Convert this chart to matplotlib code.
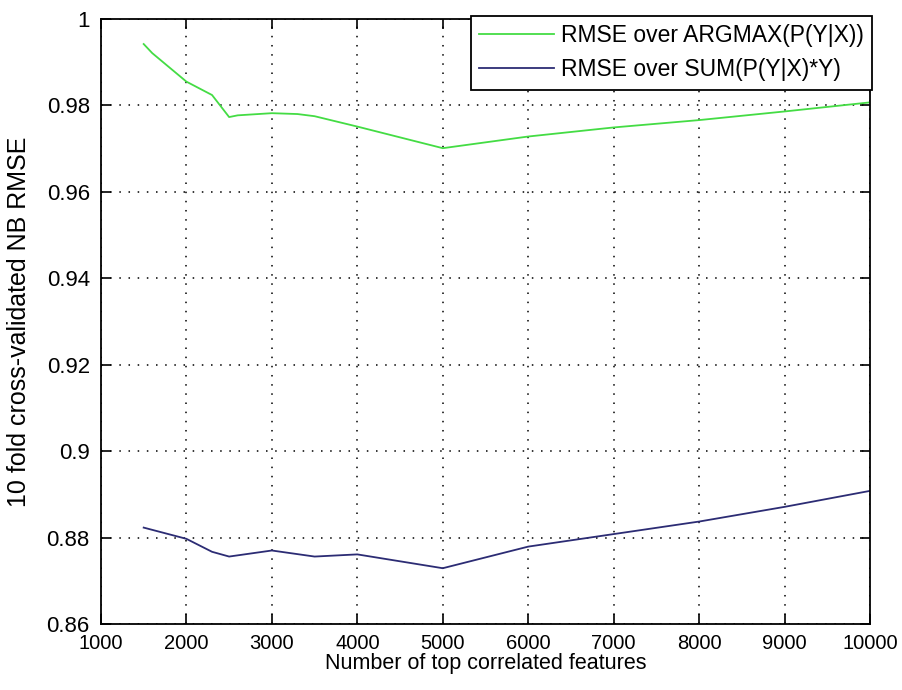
import matplotlib
matplotlib.use('Agg')
import matplotlib.pyplot as plt
from matplotlib.ticker import FuncFormatter

plt.rcParams['font.family'] = ['Liberation Sans', 'DejaVu Sans']

# RMSE over ARGMAX(P(Y|X))
argmax_x = [1500, 1600, 2000, 2300, 2500, 2600, 3000, 3300, 3500, 4000, 5000, 6000, 7000, 8000, 9000, 10000]
argmax_rmse = [0.9942, 0.9921, 0.9855, 0.9824, 0.9773, 0.9777, 0.9782, 0.9780, 0.9775, 0.9751,
               0.9701, 0.9728, 0.9749, 0.9766, 0.9786, 0.9807]

# RMSE over SUM(P(Y|X)*Y)
sum_x = [1500, 2000, 2300, 2500, 3000, 3500, 3700, 4000, 5000, 6000, 7000, 8000, 9000, 10000]
sum_rmse = [0.8823, 0.8797, 0.8767, 0.8756, 0.8770, 0.8756, 0.8758, 0.8761, 0.8729, 0.8779,
            0.8808, 0.8837, 0.8871, 0.8908]

x_ticks = [1000, 2000, 3000, 4000, 5000, 6000, 7000, 8000, 9000, 10000]
y_ticks = [0.86, 0.88, 0.90, 0.92, 0.94, 0.96, 0.98, 1.00]

fig = plt.figure(figsize=(9.03, 6.90), dpi=100)
ax = fig.add_axes([0.1118, 0.0957, 0.8517, 0.8768])

ax.plot(argmax_x, argmax_rmse, color='#44dc44', linewidth=1.3, label='RMSE over ARGMAX(P(Y|X))')
ax.plot(sum_x, sum_rmse, color='#2c2c74', linewidth=1.3, label='RMSE over SUM(P(Y|X)*Y)')

ax.set_xlim(1000, 10000)
ax.set_ylim(0.86, 1.0)
ax.set_xticks(x_ticks)
ax.set_yticks(y_ticks)
ax.yaxis.set_major_formatter(FuncFormatter(lambda v, p: '%g' % round(v, 2)))
ax.grid(True, color='black', linestyle=(0, (1, 5)), linewidth=1.1)
ax.tick_params(direction='in', length=7, width=1.2, top=True, right=True)
ax.tick_params(axis='x', pad=7, labelsize=14.5)
ax.tick_params(axis='y', pad=8, labelsize=16)
for s in ax.spines.values():
    s.set_linewidth(1.3)

ax.set_xlabel('Number of top correlated features', fontsize=15.5, labelpad=0)
ax.set_ylabel('10 fold cross-validated NB RMSE', fontsize=18, labelpad=11)

leg = ax.legend(loc='upper right', bbox_to_anchor=(0.9657, 0.9768), bbox_transform=fig.transFigure,
                borderaxespad=0, fontsize=16.5, fancybox=False, framealpha=1, edgecolor='black',
                handlelength=3.3, handletextpad=0.3, labelspacing=0.5, borderpad=0.35)
leg.get_frame().set_linewidth(1.3)

plt.savefig('out.png', dpi=100)
